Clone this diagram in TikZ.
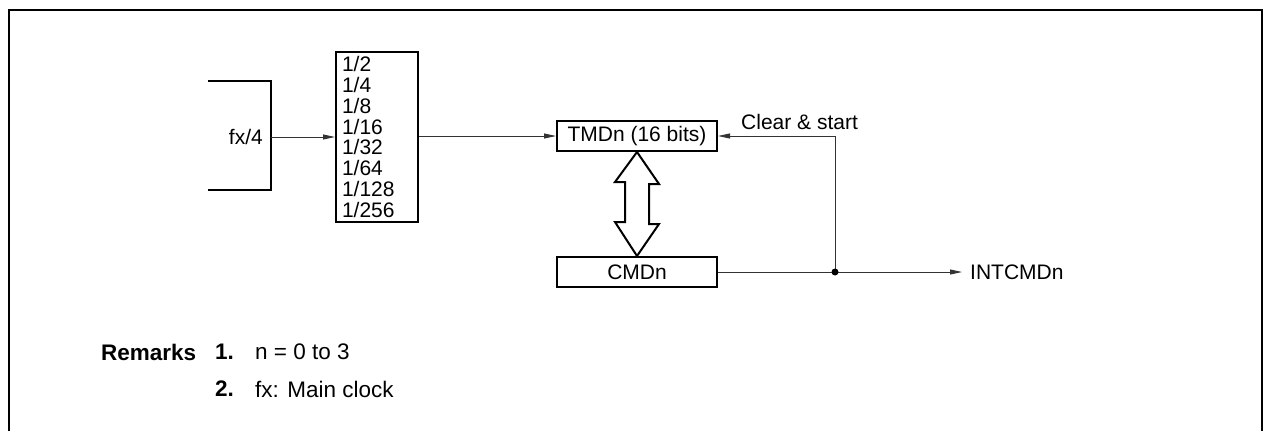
\documentclass[tikz,border=0pt]{standalone}
\usepackage{fontspec}
\setmainfont{Liberation Sans}
\usetikzlibrary{arrows.meta,calc}
\begin{document}
\begin{tikzpicture}[x=1pt,y=-1pt,
  thick box/.style={draw,line width=2pt,inner sep=0pt},
  conn/.style={line width=0.9pt,draw=black!80},
  tip/.style={-{Triangle[length=12pt,width=5pt]}},
  lbl/.style={font=\fontsize{21}{20.8}\selectfont,inner sep=0pt},
  rlbl/.style={font=\fontsize{22.5}{24}\selectfont,inner sep=0pt,anchor=west},
  rbold/.style={font=\fontsize{22.5}{24}\selectfont\bfseries,inner sep=0pt,anchor=west}]
\useasboundingbox (0,0) rectangle (1266,431);
% frame
\draw[line width=2pt] (9,431) -- (9,10) -- (1262,10) -- (1262,431);
% clock source bracket
\draw[line width=2pt] (208,81) -- (271,81) -- (271,190) -- (208,190);
\coordinate (src) at (271,137);
\node[lbl,anchor=east] (fx) at (263,137) {fx/4};
% divider
\node[thick box,minimum width=80,minimum height=170,align=left,text width=70,
  inner xsep=6pt,font=\fontsize{21}{20.8}\selectfont] (div) at (377,137)
  {1/2\\1/4\\1/8\\1/16\\1/32\\1/64\\1/128\\1/256};
% TMDn
\node[thick box,minimum width=160,minimum height=30,lbl] (tmd) at (637,136) {TMDn (16 bits)};
% CMDn
\node[thick box,minimum width=160,minimum height=30,lbl] (cmd) at (637,272) {CMDn};
% connectors
\draw[conn,tip] (src) -- (div.west |- src);
\draw[conn,tip] (div.east |- tmd) -- (tmd.west);
\coordinate (jn) at (835,272);
\coordinate (up) at (835,136);
\coordinate (out) at (962,272);
\draw[conn] (cmd.east) -- (jn);
\draw[conn,tip] (jn) -- (out);
\draw[conn,tip] (jn) -- (up) -- (tmd.east);
\fill (jn) circle[radius=3.5];
\node[lbl,anchor=west] (clr) at (741,122) {Clear \& start};
\node[lbl,anchor=west] (int) at (970,272) {INTCMDn};
% double arrow
\draw[line width=2pt,fill=white,line join=miter]
  (tmd.south) -- ++(22,32) -- ++(-10,0) -- ++(0,40) -- ++(10,0)
  -- (cmd.north) -- ++(-22,-34) -- ++(10,0) -- ++(0,-40) -- ++(-10,0) -- cycle;
% remarks
\node[rbold] (rem) at (101,352) {Remarks};
\node[rbold] (r1) at (215,352) {1.};
\node[rlbl] (t1) at (255,352) {n = 0 to 3};
\node[rbold] (r2) at (215,389) {2.};
\node[rlbl] (t2) at (255,389) {fx: Main clock};
\end{tikzpicture}
\end{document}
